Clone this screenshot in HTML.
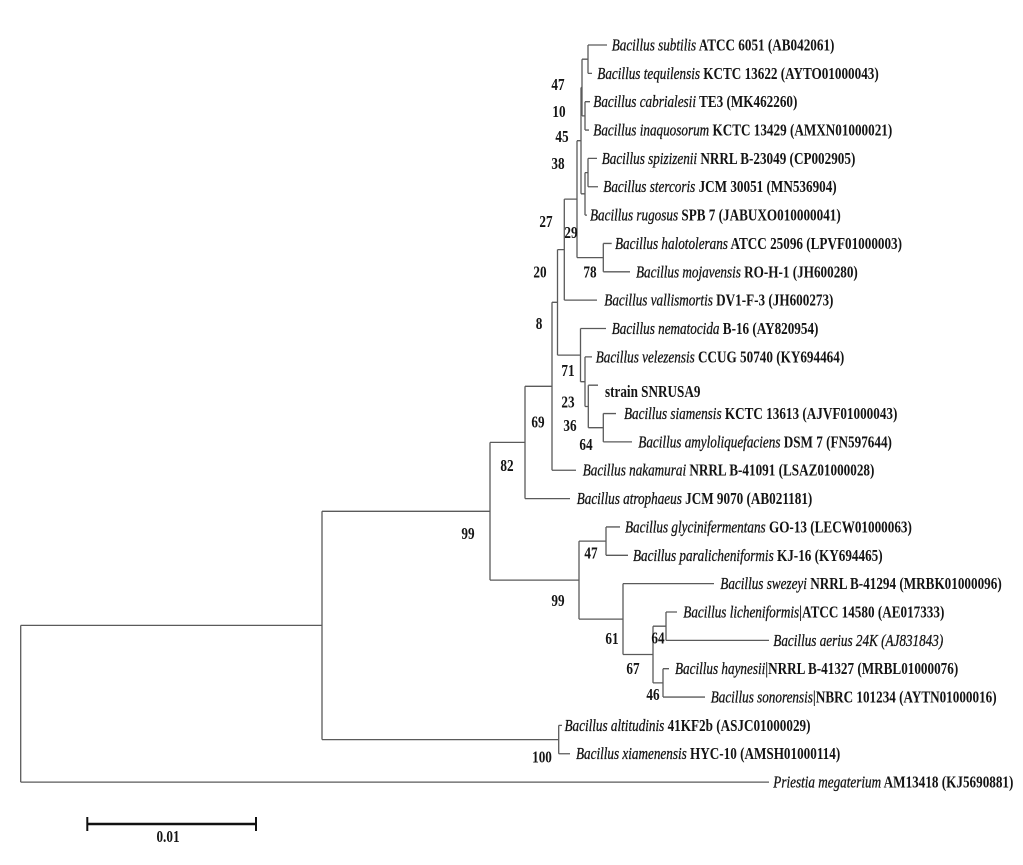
<!DOCTYPE html>
<html>
<head>
<meta charset="utf-8">
<style>
html,body{margin:0;padding:0;background:#fff;}
svg{display:block;}
text{font-family:"Liberation Serif","DejaVu Serif",serif;fill:#141414;white-space:pre;}
.lf{font-size:17px;}
.lf tspan.i{font-style:italic;stroke:#141414;stroke-width:0.3;}
.bs{font-size:16.5px;font-weight:bold;text-anchor:middle;}
</style>
</head>
<body>
<svg width="1023" height="865" viewBox="0 0 1023 865" xmlns="http://www.w3.org/2000/svg">
<rect width="1023" height="865" fill="#fff"/>
<g stroke="#5a5a5a" stroke-width="1.3" fill="none">
<path d="M588 45V73.35 M585 101.7V130.05 M582 59.2V115.9 M588 158.4V186.75 M585 172.6V215.1 M581 87.5V193.8 M603.3 243.45V271.8 M577 140.7V257.6 M564.3 199.1V300.15 M557.5 249.6V355.1 M580.5 328.5V381.7 M585 356.85V406.5 M588.3 385.2V427.7 M603.3 413.55V441.9 M552 302.3V470.25 M525 386.3V498.6 M490 442.4V580.1 M606 526.95V555.3 M623 583.65V654.5 M653 626.2V682.9 M666 612V640.35 M663 668.7V697.05 M579 541.1V619.1 M558.7 725.4V753.75 M322 511.3V739.6 M20.7 625.4V782.1"/>
<path d="M582 59.2H588 M582 115.9H585 M581 87.5H582 M585 172.6H588 M581 193.8H585 M577 140.7H581 M577 257.6H603.3 M564.3 199.1H577 M557.5 249.6H564.3 M557.5 355.1H580.5 M580.5 381.7H585 M585 406.5H588.3 M588.3 427.7H603.3 M552 302.3H557.5 M525 386.3H552 M490 442.4H525 M579 541.1H606 M653 626.2H666 M653 682.9H663 M623 654.5H653 M579 619.1H623 M490 580.1H579 M322 511.3H490 M322 739.6H558.7 M20.7 625.4H322"/>
<path d="M588 45H607 M588 73.35H592 M585 101.7H590 M585 130.05H589 M588 158.4H597 M588 186.75H598 M585 215.1H587 M603.3 243.45H611.7 M603.3 271.8H630 M564.3 300.15H597 M580.5 328.5H606 M585 356.85H592 M588.3 385.2H598 M603.3 413.55H616 M603.3 441.9H632 M552 470.25H576 M525 498.6H570 M606 526.95H620 M606 555.3H628 M623 583.65H714 M666 612H677 M666 640.35H769 M663 668.7H669 M663 697.05H705 M558.7 725.4H562 M558.7 753.75H570 M20.7 782.1H769"/>
</g>

<g class="lf">
<text transform="translate(611.7,50.5) scale(0.775,1)"><tspan class="i">Bacillus subtilis</tspan><tspan font-weight="bold"> ATCC 6051 (AB042061)</tspan></text>
<text transform="translate(597.3,78.8) scale(0.775,1)"><tspan class="i">Bacillus tequilensis</tspan><tspan font-weight="bold"> KCTC 13622 (AYTO01000043)</tspan></text>
<text transform="translate(593.3,107.2) scale(0.775,1)"><tspan class="i">Bacillus cabrialesii</tspan><tspan font-weight="bold"> TE3 (MK462260)</tspan></text>
<text transform="translate(593.3,135.5) scale(0.775,1)"><tspan class="i">Bacillus inaquosorum</tspan><tspan font-weight="bold"> KCTC 13429 (AMXN01000021)</tspan></text>
<text transform="translate(601.7,163.9) scale(0.775,1)"><tspan class="i">Bacillus spizizenii</tspan><tspan font-weight="bold"> NRRL B-23049 (CP002905)</tspan></text>
<text transform="translate(603.3,192.2) scale(0.775,1)"><tspan class="i">Bacillus stercoris</tspan><tspan font-weight="bold"> JCM 30051 (MN536904)</tspan></text>
<text transform="translate(590,220.6) scale(0.775,1)"><tspan class="i">Bacillus rugosus</tspan><tspan font-weight="bold"> SPB 7 (JABUXO010000041)</tspan></text>
<text transform="translate(615,248.9) scale(0.775,1)"><tspan class="i">Bacillus halotolerans</tspan><tspan font-weight="bold"> ATCC 25096 (LPVF01000003)</tspan></text>
<text transform="translate(636,277.3) scale(0.775,1)"><tspan class="i">Bacillus mojavensis</tspan><tspan font-weight="bold"> RO-H-1 (JH600280)</tspan></text>
<text transform="translate(604.3,305.6) scale(0.775,1)"><tspan class="i">Bacillus vallismortis</tspan><tspan font-weight="bold"> DV1-F-3 (JH600273)</tspan></text>
<text transform="translate(611.7,334) scale(0.775,1)"><tspan class="i">Bacillus nematocida</tspan><tspan font-weight="bold"> B-16 (AY820954)</tspan></text>
<text transform="translate(595.7,362.3) scale(0.775,1)"><tspan class="i">Bacillus velezensis</tspan><tspan font-weight="bold"> CCUG 50740 (KY694464)</tspan></text>
<text transform="translate(605,397) scale(0.775,1)"><tspan font-weight="bold">strain SNRUSA9</tspan></text>
<text transform="translate(624,419) scale(0.775,1)"><tspan class="i">Bacillus siamensis</tspan><tspan font-weight="bold"> KCTC 13613 (AJVF01000043)</tspan></text>
<text transform="translate(638.3,447.4) scale(0.775,1)"><tspan class="i">Bacillus amyloliquefaciens</tspan><tspan font-weight="bold"> DSM 7 (FN597644)</tspan></text>
<text transform="translate(582.7,475.7) scale(0.775,1)"><tspan class="i">Bacillus nakamurai</tspan><tspan font-weight="bold"> NRRL B-41091 (LSAZ01000028)</tspan></text>
<text transform="translate(576.7,504.1) scale(0.775,1)"><tspan class="i">Bacillus atrophaeus</tspan><tspan font-weight="bold"> JCM 9070 (AB021181)</tspan></text>
<text transform="translate(625,532.4) scale(0.775,1)"><tspan class="i">Bacillus glycinifermentans</tspan><tspan font-weight="bold"> GO-13 (LECW01000063)</tspan></text>
<text transform="translate(633,560.8) scale(0.775,1)"><tspan class="i">Bacillus paralicheniformis</tspan><tspan font-weight="bold"> KJ-16 (KY694465)</tspan></text>
<text transform="translate(720.3,589.1) scale(0.775,1)"><tspan class="i">Bacillus swezeyi</tspan><tspan font-weight="bold"> NRRL B-41294 (MRBK01000096)</tspan></text>
<text transform="translate(683.3,617.5) scale(0.775,1)"><tspan class="i">Bacillus licheniformis</tspan><tspan font-weight="bold">|ATCC 14580 (AE017333)</tspan></text>
<text transform="translate(773.3,645.8) scale(0.775,1)"><tspan class="i">Bacillus aerius 24K (AJ831843)</tspan></text>
<text transform="translate(675,674.2) scale(0.775,1)"><tspan class="i">Bacillus haynesii</tspan><tspan font-weight="bold">|NRRL B-41327 (MRBL01000076)</tspan></text>
<text transform="translate(710.7,702.5) scale(0.775,1)"><tspan class="i">Bacillus sonorensis</tspan><tspan font-weight="bold">|NBRC 101234 (AYTN01000016)</tspan></text>
<text transform="translate(564.5,730.9) scale(0.775,1)"><tspan class="i">Bacillus altitudinis</tspan><tspan font-weight="bold"> 41KF2b (ASJC01000029)</tspan></text>
<text transform="translate(576,759.2) scale(0.775,1)"><tspan class="i">Bacillus xiamenensis</tspan><tspan font-weight="bold"> HYC-10 (AMSH01000114)</tspan></text>
<text transform="translate(773.3,787.6) scale(0.775,1)"><tspan class="i">Priestia megaterium</tspan><tspan font-weight="bold"> AM13418 (KJ5690881)</tspan></text>
</g>

<g>
<text class="bs" transform="translate(558,89.8) scale(0.8,1)">47</text>
<text class="bs" transform="translate(559,116.8) scale(0.8,1)">10</text>
<text class="bs" transform="translate(562,141.8) scale(0.8,1)">45</text>
<text class="bs" transform="translate(558,168.8) scale(0.8,1)">38</text>
<text class="bs" transform="translate(546,226.8) scale(0.8,1)">27</text>
<text class="bs" transform="translate(571,237.8) scale(0.8,1)">29</text>
<text class="bs" transform="translate(540,277.3) scale(0.8,1)">20</text>
<text class="bs" transform="translate(590,277.3) scale(0.8,1)">78</text>
<text class="bs" transform="translate(539,328.8) scale(0.8,1)">8</text>
<text class="bs" transform="translate(568,375.8) scale(0.8,1)">71</text>
<text class="bs" transform="translate(568,407.3) scale(0.8,1)">23</text>
<text class="bs" transform="translate(570,430.8) scale(0.8,1)">36</text>
<text class="bs" transform="translate(586,449.8) scale(0.8,1)">64</text>
<text class="bs" transform="translate(538,427.3) scale(0.8,1)">69</text>
<text class="bs" transform="translate(507,470.8) scale(0.8,1)">82</text>
<text class="bs" transform="translate(468,538.8) scale(0.8,1)">99</text>
<text class="bs" transform="translate(591,558.3) scale(0.8,1)">47</text>
<text class="bs" transform="translate(558,605.8) scale(0.8,1)">99</text>
<text class="bs" transform="translate(612,643.8) scale(0.8,1)">61</text>
<text class="bs" transform="translate(658,643.3) scale(0.8,1)">64</text>
<text class="bs" transform="translate(633,673.8) scale(0.8,1)">67</text>
<text class="bs" transform="translate(653,699.8) scale(0.8,1)">46</text>
<text class="bs" transform="translate(542,762.3) scale(0.8,1)">100</text>
</g>

<g stroke="#111" fill="none">
<path d="M87.3 824H256" stroke-width="2.6"/>
<path d="M87.3 817V831 M256 817V831" stroke-width="2"/>
</g>
<text class="bs" transform="translate(168,842) scale(0.8,1)">0.01</text>
</svg>
</body>
</html>
